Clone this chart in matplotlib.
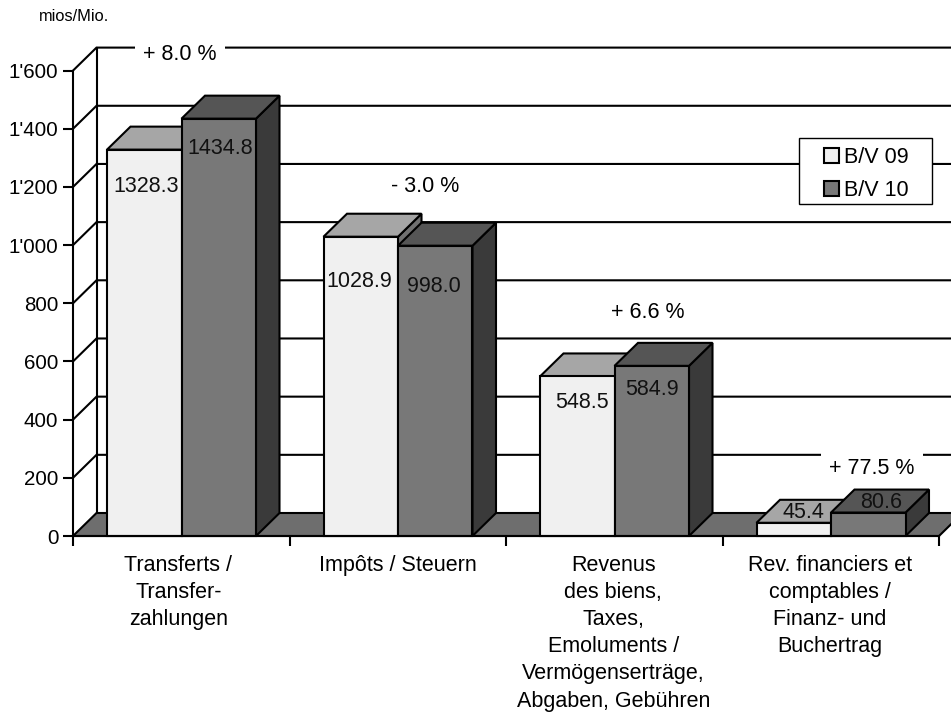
import matplotlib
matplotlib.use("Agg")
import matplotlib.pyplot as plt
from matplotlib.patches import Patch, Rectangle

plt.rcParams['font.family'] = ['Liberation Sans', 'DejaVu Sans']

categories = ["Transferts /\nTransfer-\nzahlungen",
              "Impôts / Steuern",
              "Revenus\ndes biens,\nTaxes,\nEmoluments /\nVermögenserträge,\nAbgaben, Gebühren",
              "Rev. financiers et\ncomptables /\nFinanz- und\nBuchertrag"]
series_names = ["B/V 09", "B/V 10"]
values_09 = [1328.3, 1028.9, 548.5, 45.4]
values_10 = [1434.8, 998.0, 584.9, 80.6]
value_labels_09 = ["1328.3", "1028.9", "548.5", "45.4"]
value_labels_10 = ["1434.8", "998.0", "584.9", "80.6"]
changes = ["+ 8.0 %", "- 3.0 %", "+ 6.6 %", "+ 77.5 %"]
y_ticks = [0, 200, 400, 600, 800, 1000, 1200, 1400, 1600]
y_tick_labels = ["0", "200", "400", "600", "800", "1'000", "1'200", "1'400", "1'600"]

W, H = 951, 712
L, R, B, T = 73, 939, 536, 70.6
fig = plt.figure(figsize=(W / 100, H / 100), dpi=100, facecolor="white")
ax = fig.add_axes([L / W, 1 - B / H, (R - L) / W, (B - T) / H])
ax.set_xlim(0, 4)
ax.set_ylim(0, 1600)

px_x = 4 / (R - L)
px_y = 1600 / (B - T)
DX = 23.5 * px_x
DY = 23 * px_y
BAR_W = 74.5 * px_x
MARGIN = 34 * px_x
LW = 1.5
FS = 15.5
k = dict(edgecolor="black", linewidth=LW, joinstyle="miter", clip_on=False)

# back wall
for y in y_ticks[1:]:
    ax.plot([0, DX, 4 + DX], [y, y + DY, y + DY], color="black", lw=LW,
            clip_on=False, zorder=1, solid_joinstyle="miter")
ax.plot([DX, DX], [DY, 1600 + DY], color="black", lw=LW, clip_on=False, zorder=1)

# floor
ax.fill([0, DX, 4 + DX, 4], [0, DY, DY, 0], facecolor="#6E6E6E", zorder=2, **k)


def bar3d(x, v, front, top, side, z):
    ax.fill([x + BAR_W, x + BAR_W + DX, x + BAR_W + DX, x + BAR_W],
            [0, DY, v + DY, v], facecolor=side, zorder=z, **k)
    ax.fill([x, x + DX, x + BAR_W + DX, x + BAR_W],
            [v, v + DY, v + DY, v], facecolor=top, zorder=z, **k)
    ax.fill([x, x + BAR_W, x + BAR_W, x], [0, 0, v, v],
            facecolor=front, zorder=z, **k)


offs_09 = [(2, -37), (-2, -45), (4.5, -26.5), (10, 10)]
offs_10 = [(1.5, -30), (-1, -41), (0, -24), (13, 10)]
for i in range(4):
    x0 = i + MARGIN
    bar3d(x0, values_09[i], "#F0F0F0", "#A6A6A6", "#707070", 4 + i)
    bar3d(x0 + BAR_W, values_10[i], "#787878", "#555555", "#3A3A3A", 4.5 + i)
    ox, oy = offs_09[i]
    ax.annotate(value_labels_09[i], (x0 + BAR_W / 2, values_09[i]),
                xytext=(ox * 0.72, oy * 0.72), textcoords="offset points",
                ha="center", va="center", fontsize=FS, color="#111111", zorder=20)
    ox, oy = offs_10[i]
    ax.annotate(value_labels_10[i], (x0 + BAR_W * 1.5, values_10[i]),
                xytext=(ox * 0.72, oy * 0.72), textcoords="offset points",
                ha="center", va="center", fontsize=FS, color="#111111", zorder=20)

# percentage notes
note_xy = [(180, 55), (425, 187), (648, 313), (872, 468)]
for (px, py), s in zip(note_xy, changes):
    ax.text(px, H - py, s, transform=None, ha="center", va="center", fontsize=FS,
            color="black", zorder=3,
            bbox=dict(facecolor="white", edgecolor="none", pad=6))

# axes
for s in ("top", "right"):
    ax.spines[s].set_visible(False)
for s in ("left", "bottom"):
    ax.spines[s].set_linewidth(LW)
    ax.spines[s].set_zorder(15)
ax.patch.set_alpha(0)
ax.set_yticks(y_ticks)
ax.set_yticklabels(y_tick_labels, fontsize=14.8)
ax.tick_params(axis="y", length=7.5, width=LW, pad=3)
ax.set_xticks(range(5))
ax.set_xticklabels([])
ax.tick_params(axis="x", length=7.5, width=LW)
cat_shift = [-3, 0, -1, -1]
for i, c in enumerate(categories):
    ax.annotate(c, (i + 0.5, 0), xytext=(cat_shift[i] * 0.72, -13.5), textcoords="offset points",
                ha="center", va="top", fontsize=FS, linespacing=1.385,
                annotation_clip=False)

fig.text(39 / W, 1 - 16.5 / H, "mios/Mio.", fontsize=11.8, ha="left", va="center")

# legend frame and entries
fig.add_artist(Rectangle((798.5 / W, 1 - 204 / H), 133.5 / W, 66 / H,
                         transform=fig.transFigure, facecolor="white",
                         edgecolor="black", linewidth=1, zorder=20))
handles = [Patch(facecolor="#F0F0F0", edgecolor="black", linewidth=LW, label=series_names[0]),
           Patch(facecolor="#787878", edgecolor="black", linewidth=LW, label=series_names[1])]
leg = fig.legend(handles=handles, loc="upper left",
                 bbox_to_anchor=(824 / W, 1 - 147 / H), bbox_transform=fig.transFigure,
                 fontsize=FS, frameon=False,
                 handlelength=0.7, handleheight=0.7, handletextpad=0.25,
                 labelspacing=0.55, borderpad=0, borderaxespad=0)
leg.set_zorder(30)

fig.savefig("out.png", dpi=100)
